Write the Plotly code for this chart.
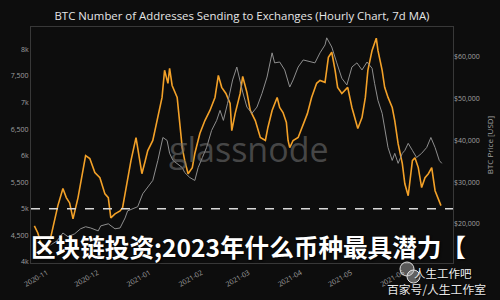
import plotly.graph_objects as go

# ---------------- data ----------------
addr_dates = [
    "2020-10-24 12:00", "2020-10-26 12:00", "2020-10-29 00:00", "2020-10-31 12:00",
    "2020-11-03 00:00", "2020-11-04 12:00", "2020-11-07 12:00", "2020-11-10 12:00",
    "2020-11-12 12:00", "2020-11-14 12:00", "2020-11-16 12:00", "2020-11-19 12:00",
    "2020-11-22 12:00", "2020-11-24 00:00", "2020-11-26 12:00", "2020-11-29 12:00",
    "2020-12-02 12:00", "2020-12-05 12:00", "2020-12-07 12:00", "2020-12-09 00:00",
    "2020-12-11 12:00", "2020-12-14 12:00", "2020-12-16 00:00", "2020-12-18 00:00",
    "2020-12-21 00:00", "2020-12-24 00:00", "2020-12-25 00:00", "2020-12-27 12:00",
    "2020-12-29 12:00", "2020-12-31 00:00", "2021-01-03 00:00", "2021-01-05 12:00",
    "2021-01-08 12:00", "2021-01-10 00:00", "2021-01-12 00:00", "2021-01-13 00:00",
    "2021-01-14 12:00", "2021-01-17 12:00", "2021-01-19 00:00", "2021-01-20 12:00",
    "2021-01-22 00:00", "2021-01-24 00:00", "2021-01-26 12:00", "2021-01-28 00:00",
    "2021-01-31 00:00", "2021-02-03 00:00", "2021-02-06 00:00", "2021-02-09 00:00",
    "2021-02-11 00:00", "2021-02-13 00:00", "2021-02-15 12:00", "2021-02-18 00:00",
    "2021-02-19 00:00", "2021-02-21 00:00", "2021-02-24 00:00", "2021-02-25 12:00",
    "2021-02-28 00:00", "2021-03-02 00:00", "2021-03-05 00:00", "2021-03-08 00:00",
    "2021-03-11 00:00", "2021-03-12 12:00", "2021-03-15 00:00", "2021-03-18 00:00",
    "2021-03-19 12:00", "2021-03-21 12:00", "2021-03-23 12:00", "2021-03-24 12:00",
    "2021-03-25 12:00", "2021-03-27 12:00", "2021-03-30 12:00", "2021-04-02 00:00",
    "2021-04-05 00:00", "2021-04-07 12:00", "2021-04-10 12:00", "2021-04-12 12:00",
    "2021-04-15 12:00", "2021-04-17 12:00", "2021-04-19 12:00", "2021-04-21 12:00",
    "2021-04-23 00:00", "2021-04-25 12:00", "2021-04-27 12:00", "2021-04-29 00:00",
    "2021-05-01 12:00", "2021-05-03 12:00", "2021-05-05 00:00", "2021-05-07 12:00",
    "2021-05-09 12:00", "2021-05-11 00:00", "2021-05-13 12:00", "2021-05-16 00:00",
    "2021-05-17 00:00", "2021-05-19 12:00", "2021-05-21 00:00", "2021-05-23 00:00",
    "2021-05-25 12:00", "2021-05-27 00:00", "2021-05-29 00:00", "2021-05-31 12:00",
    "2021-06-02 00:00", "2021-06-04 00:00", "2021-06-06 12:00", "2021-06-08 00:00",
    "2021-06-10 00:00", "2021-06-12 00:00", "2021-06-14 00:00", "2021-06-16 00:00",
    "2021-06-18 00:00", "2021-06-20 00:00", "2021-06-21 12:00", "2021-06-23 12:00",
]
addr_values = [
    4680, 4550, 4300, 4210, 4430, 4640, 5060, 5380,
    5210, 5110, 4810, 5210, 5755, 6000, 5945, 5680,
    5585, 5280, 5210, 4830, 4905, 4960, 5020, 5400,
    5905, 6340, 6150, 5660, 5905, 6095, 6285, 6660,
    7095, 7605, 7360, 7640, 7320, 7095, 6605, 6150,
    5905, 5660, 5775, 6040, 6415, 6660, 6850, 7095,
    7510, 7285, 7170, 6980, 6470, 6790, 7170, 7490,
    7190, 6850, 6660, 6340, 6285, 6530, 6850, 7095,
    6905, 6810, 6623, 6285, 6150, 6285, 6340, 6530,
    6790, 7095, 7360, 7415, 7380, 7850, 7945, 7605,
    7285, 7170, 7245, 7285, 6905, 6700, 6510, 6715,
    7095, 7605, 7980, 8210, 7980, 7605, 7285, 7095,
    6905, 6660, 6225, 5850, 5470, 5245, 5905, 5960,
    5775, 5400, 5585, 5660, 5775, 5340, 5210, 5060,
]

price_dates = [
    "2020-10-24 12:00", "2020-10-29 00:00", "2020-11-03 00:00", "2020-11-07 00:00",
    "2020-11-10 12:00", "2020-11-13 12:00", "2020-11-17 12:00", "2020-11-21 00:00",
    "2020-11-24 00:00", "2020-11-27 00:00", "2020-12-01 12:00", "2020-12-03 00:00",
    "2020-12-07 12:00", "2020-12-11 12:00", "2020-12-14 12:00", "2020-12-17 12:00",
    "2020-12-19 00:00", "2020-12-22 00:00", "2020-12-25 00:00", "2020-12-28 00:00",
    "2020-12-31 00:00", "2021-01-03 00:00", "2021-01-06 00:00", "2021-01-09 00:00",
    "2021-01-11 12:00", "2021-01-13 00:00", "2021-01-15 00:00", "2021-01-17 12:00",
    "2021-01-20 12:00", "2021-01-22 00:00", "2021-01-25 00:00", "2021-01-28 00:00",
    "2021-01-30 00:00", "2021-02-01 12:00", "2021-02-04 00:00", "2021-02-07 00:00",
    "2021-02-10 00:00", "2021-02-12 00:00", "2021-02-14 00:00", "2021-02-16 12:00",
    "2021-02-19 12:00", "2021-02-22 00:00", "2021-02-24 00:00", "2021-02-25 12:00",
    "2021-02-28 00:00", "2021-03-03 00:00", "2021-03-06 00:00", "2021-03-09 00:00",
    "2021-03-12 00:00", "2021-03-15 00:00", "2021-03-16 12:00", "2021-03-19 12:00",
    "2021-03-22 12:00", "2021-03-25 12:00", "2021-03-27 12:00", "2021-03-30 12:00",
    "2021-04-02 12:00", "2021-04-06 12:00", "2021-04-09 12:00", "2021-04-12 12:00",
    "2021-04-15 12:00", "2021-04-16 12:00", "2021-04-19 12:00", "2021-04-22 12:00",
    "2021-04-25 12:00", "2021-04-28 12:00", "2021-05-01 12:00", "2021-05-04 12:00",
    "2021-05-07 12:00", "2021-05-10 12:00", "2021-05-13 12:00", "2021-05-15 00:00",
    "2021-05-17 00:00", "2021-05-19 12:00", "2021-05-21 00:00", "2021-05-23 00:00",
    "2021-05-25 12:00", "2021-05-27 00:00", "2021-05-29 00:00", "2021-05-31 12:00",
    "2021-06-02 00:00", "2021-06-04 00:00", "2021-06-06 12:00", "2021-06-09 00:00",
    "2021-06-12 00:00", "2021-06-15 00:00", "2021-06-17 12:00", "2021-06-20 00:00",
    "2021-06-22 12:00", "2021-06-24 00:00",
]
price_values = [
    13000, 13700, 14900, 15900, 17800, 16900, 17600, 18800,
    19300, 19000, 18300, 19500, 20000, 18800, 19000, 21400,
    23100, 23600, 24100, 27200, 28700, 30400, 35200, 40700,
    40000, 36900, 35200, 34500, 33500, 32300, 31100, 30400,
    33500, 35900, 38300, 42400, 44800, 47200, 44800, 48900,
    54500, 57600, 53700, 51600, 48000, 46500, 48000, 51300,
    55200, 61000, 58600, 58800, 56900, 52800, 54500, 57600,
    59300, 58800, 58600, 61000, 62900, 64600, 62400, 58600,
    54900, 53300, 57600, 58600, 56900, 58800, 57300, 53700,
    49600, 46500, 43100, 38300, 35200, 36900, 34500, 36900,
    37600, 39300, 37600, 35900, 36900, 38300, 40700, 38300,
    35200, 34500,
]

x_tick_vals = ["2020-11-01", "2020-12-01", "2021-01-01", "2021-02-01",
               "2021-03-01", "2021-04-01", "2021-05-01", "2021-06-01"]
x_tick_text = ["2020-11", "2020-12", "2021-01", "2021-02",
               "2021-03", "2021-04", "2021-05", "2021-06"]
left_tick_vals = [4000, 4500, 5000, 5500, 6000, 6500, 7000, 7500, 8000]
left_tick_text = ["4k", "4,500", "5k", "5,500", "6k", "6,500", "7k", "7,500", "8k"]
right_tick_vals = [20000, 30000, 40000, 50000, 60000]
right_tick_text = ["$20,000", "$30,000", "$40,000", "$50,000", "$60,000"]
threshold = 5000

title_text = "BTC Number of Addresses Sending to Exchanges (Hourly Chart, 7d MA)"
overlay_text = "区块链投资;2023年什么币种最具潜力【"

# ---------------- figure ----------------
BG = "#0d0d0d"
ORANGE = "#f3a128"
GRAY = "#8e8e8e"
AXIS_TXT = "#a0a0a0"
FONT = "Open Sans"

# plot area in pixels (for placing decorative texts)
L, R, T, B = 31, 47, 27, 37
PW, PH = 500 - L - R, 300 - T - B


def px(x):
    return (x - L) / PW


def py(y):
    return (300 - B - y) / PH


fig = go.Figure()
fig.add_trace(go.Scatter(x=price_dates, y=price_values, yaxis="y2", mode="lines",
                         line=dict(color=GRAY, width=1), name="BTC Price",
                         showlegend=False))
fig.add_trace(go.Scatter(x=addr_dates, y=addr_values, mode="lines",
                         line=dict(color=ORANGE, width=1.6), name="Addresses",
                         showlegend=False))

fig.add_shape(type="line", xref="paper", x0=0, x1=1, yref="y", y0=threshold, y1=threshold,
              line=dict(color="#d8d8d8", width=1.5, dash="dash"), layer="above")

fig.update_layout(
    width=500, height=300,
    margin=dict(l=L, r=R, t=T, b=B),
    paper_bgcolor=BG, plot_bgcolor=BG,
    font=dict(family=FONT, color=AXIS_TXT, size=7),
    title=dict(text=title_text, x=0.484, xanchor="center", y=0.947, yanchor="middle",
               font=dict(family=FONT, size=11.4, color="#e6e6e6")),
    xaxis=dict(type="date", range=["2020-10-22 12:00", "2021-06-30 16:00"],
               tickvals=x_tick_vals, ticktext=x_tick_text, tickangle=-30,
               tickfont=dict(size=7, color=AXIS_TXT), automargin=False,
               showgrid=False, zeroline=False, showline=True, linecolor="#383838",
               linewidth=1, mirror=True, ticks="outside", ticklen=2, tickcolor=BG),
    yaxis=dict(range=[3980, 8420], tickvals=left_tick_vals, ticktext=left_tick_text,
               tickfont=dict(size=7, color=AXIS_TXT), showgrid=False, zeroline=False,
               automargin=False,
               showline=True, linecolor="#383838", linewidth=1, mirror=True, ticks=""),
    yaxis2=dict(range=[10600, 67200], overlaying="y", side="right",
                tickvals=right_tick_vals, ticktext=right_tick_text, automargin=False,
                tickfont=dict(size=7, color=AXIS_TXT), showgrid=False, zeroline=False,
                showline=False, ticks="",
                title=dict(text="BTC Price [USD]", font=dict(size=8, color=AXIS_TXT),
                           standoff=8)),
)

# glassnode watermark
fig.add_annotation(text="glassnode", xref="paper", yref="paper",
                   x=px(249), xanchor="center", y=py(149), yanchor="middle",
                   showarrow=False, font=dict(family=FONT, size=34, color="rgba(110,110,110,0.6)"))

# big overlay title
fig.add_annotation(text="<b>" + overlay_text + "</b>", xref="paper", yref="paper",
                   x=px(29), xanchor="left", y=py(246), yanchor="middle",
                   showarrow=False,
                   font=dict(family="Noto Sans CJK SC", size=24.6, color="#ffffff",
                             shadow="1px 1px 2px #000"))

# bottom-right account watermark
fig.add_shape(type="circle", xref="paper", yref="paper",
              x0=px(400), x1=px(414), y0=py(276), y1=py(262),
              line=dict(color="#e0e0e0", width=1), fillcolor="rgba(230,230,230,0.35)")
fig.add_shape(type="circle", xref="paper", yref="paper",
              x0=px(407), x1=px(420), y0=py(283), y1=py(270),
              line=dict(color="#e0e0e0", width=1), fillcolor="rgba(200,200,200,0.45)")
fig.add_annotation(text="人生工作吧", xref="paper", yref="paper",
                   x=px(443), xanchor="center", y=py(273), yanchor="middle", showarrow=False,
                   font=dict(family="Noto Sans CJK SC", size=11.5, color="#f0f0f0",
                             shadow="1px 1px 1px #000"))
fig.add_annotation(text="百家号/人生工作室", xref="paper", yref="paper",
                   x=px(436), xanchor="center", y=py(288), yanchor="middle", showarrow=False,
                   font=dict(family="Noto Sans CJK SC", size=11.8, color="#e8e8e8",
                             shadow="1px 1px 1px #000"))

fig.write_html("out.html")
